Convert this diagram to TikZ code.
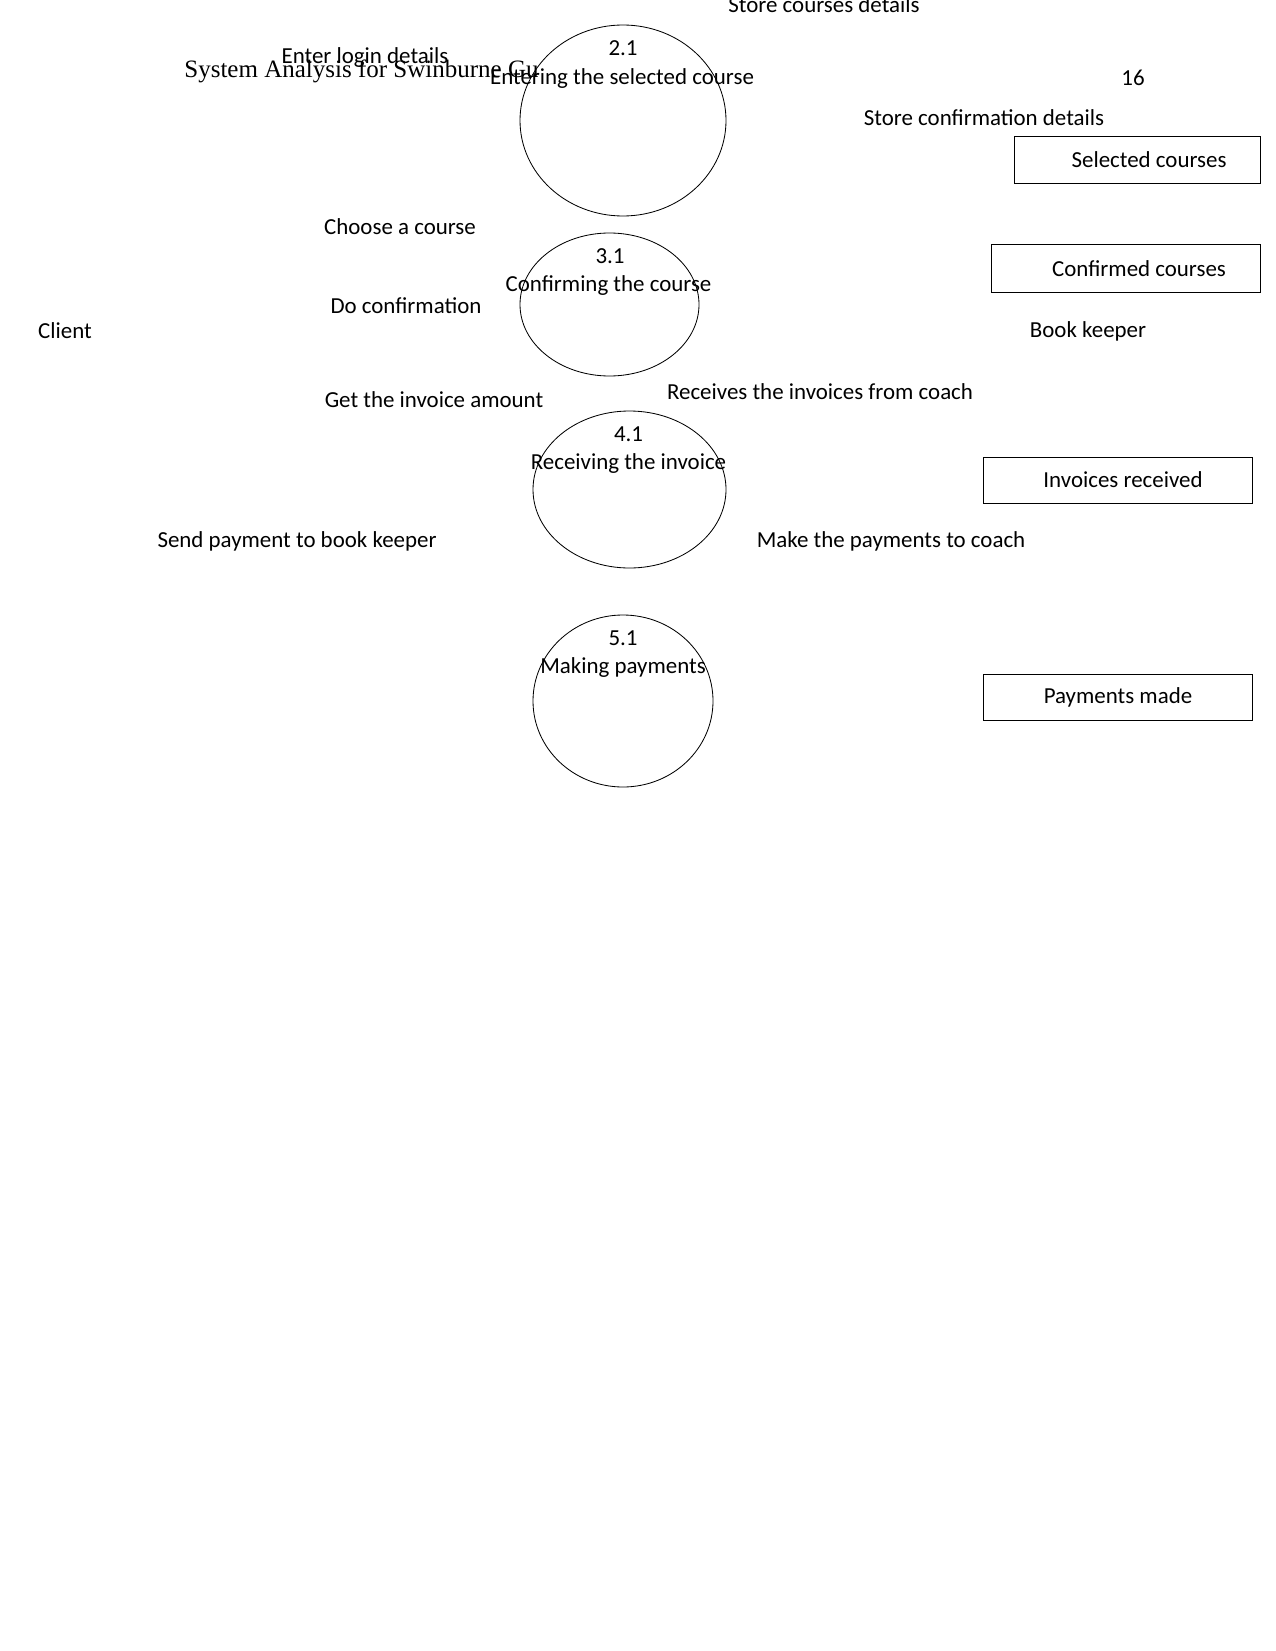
\documentclass[tikz,border=0pt]{standalone}
\usepackage{fontspec}
\setmainfont{Carlito}
\newfontfamily\hdrfont{Liberation Serif}
\begin{document}
\begin{tikzpicture}[x=0.48pt,y=-0.48pt,
  lbl/.style={inner sep=0pt,font=\fontsize{11pt}{13pt}\selectfont},
  store/.style={draw,line width=0.45pt}]
\useasboundingbox[fill=white] (0,0) rectangle (1275,1651);
% header (clipped)
\begin{scope}
\clip (0,0) rectangle (537,120);
\node[inner sep=0pt,anchor=west,font=\hdrfont\fontsize{12pt}{14pt}\selectfont] (hdr) at (184,71.5) {System Analysis for Swinburne Guide};
\end{scope}
\node[lbl] (pg) at (1133,77.5) {16};
% processes
\draw[line width=0.4pt] (623,120.5) ellipse [x radius=103, y radius=95.5];
\node[lbl] (p21n) at (623,48.5) {2.1};
\node[lbl] (p21) at (622,78.5) {Entering the selected course};
\draw[line width=0.4pt] (609.5,304.5) ellipse [x radius=89.5, y radius=71.5];
\node[lbl] (p31n) at (610,256.5) {3.1};
\node[lbl] (p31) at (608.5,286) {Confirming the course};
\draw[line width=0.4pt] (629.5,489.5) ellipse [x radius=96.5, y radius=78.5];
\node[lbl] (p41n) at (628.5,434.5) {4.1};
\node[lbl] (p41) at (628.5,463.5) {Receiving the invoice};
\draw[line width=0.4pt] (623,701) ellipse [x radius=90, y radius=86];
\node[lbl] (p51n) at (623,638.5) {5.1};
\node[lbl] (p51) at (623,668) {Making payments};
% stores
\draw[store] (1014,136) rectangle (1260,183);
\node[lbl] (s1) at (1149,160) {Selected courses};
\draw[store] (991,244) rectangle (1260,292);
\node[lbl] (s2) at (1139,268.5) {Confirmed courses};
\draw[store] (983,457) rectangle (1252,503);
\node[lbl] (s3) at (1123,480) {Invoices received};
\draw[store] (983,674) rectangle (1252,720);
\node[lbl] (s4) at (1118,697.5) {Payments made};
% entities
\node[lbl] (client) at (65,330.5) {Client};
\node[lbl] (bk) at (1088,331.5) {Book keeper};
% flow labels
\node[lbl] (f1) at (824,5) {Store courses details};
\node[lbl] (f2) at (365,58) {Enter login details};
\node[lbl] (f3) at (984,118) {Store confirmation details};
\node[lbl] (f4) at (400,227) {Choose a course};
\node[lbl] (f5) at (406,305.5) {Do confirmation};
\node[lbl] (f6) at (434,399.5) {Get the invoice amount};
\node[lbl] (f7) at (820,391.5) {Receives the invoices from coach};
\node[lbl] (f8) at (297,541) {Send payment to book keeper};
\node[lbl] (f9) at (891,541) {Make the payments to coach};
\end{tikzpicture}
\end{document}
